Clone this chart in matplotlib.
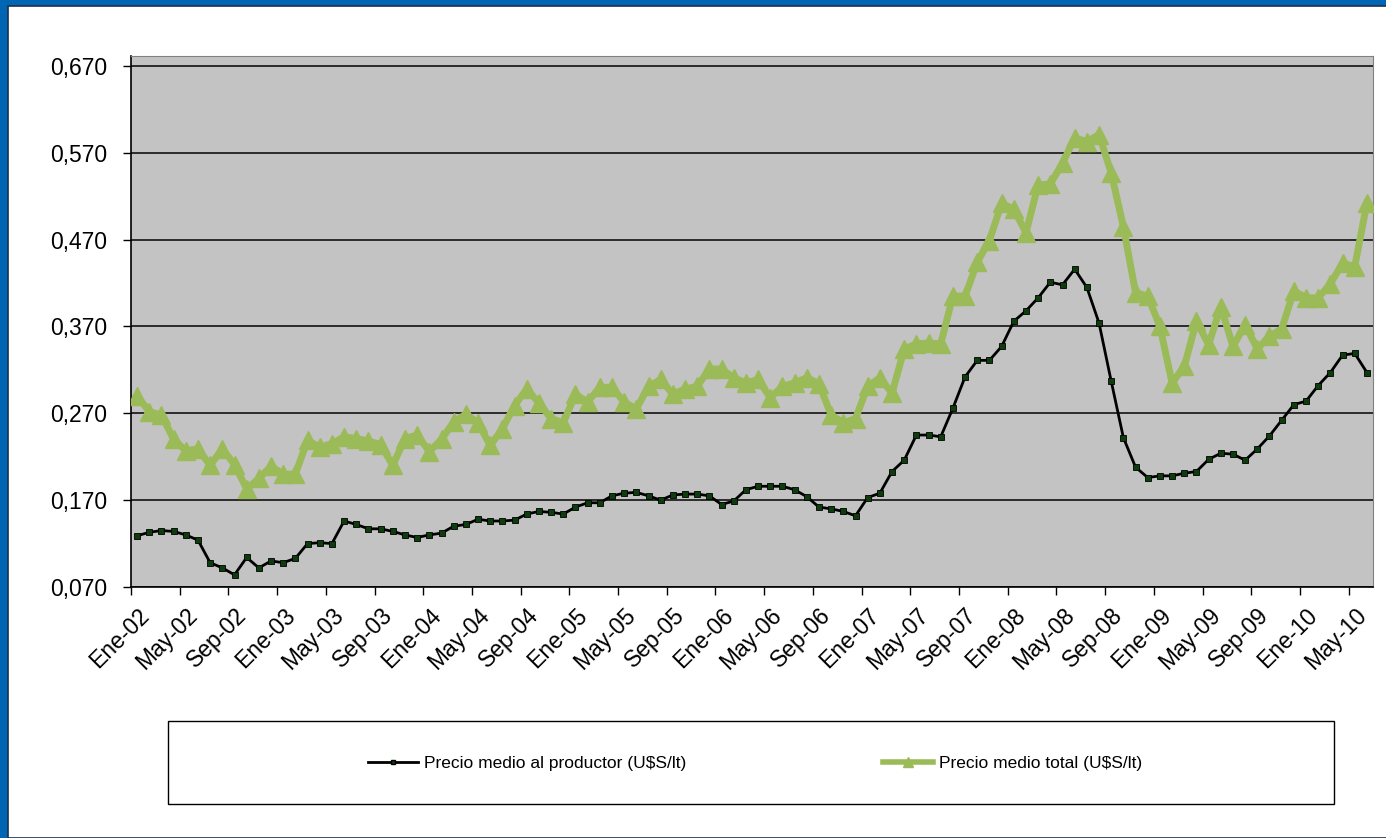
import numpy as np
import matplotlib.pyplot as plt
from matplotlib.patches import Rectangle
from matplotlib.lines import Line2D

plt.rcParams['font.family'] = ['Liberation Sans', 'DejaVu Sans']

# precio medio mensual, Ene-02 .. Jun-10
productor = [0.129, 0.133, 0.135, 0.134, 0.130, 0.124, 0.098, 0.092, 0.084, 0.104,
             0.092, 0.100, 0.098, 0.103, 0.120, 0.121, 0.120, 0.146, 0.142, 0.137,
             0.137, 0.134, 0.130, 0.127, 0.130, 0.132, 0.140, 0.142, 0.148, 0.146,
             0.146, 0.147, 0.154, 0.157, 0.156, 0.154, 0.162, 0.167, 0.167, 0.175,
             0.178, 0.179, 0.175, 0.170, 0.176, 0.177, 0.177, 0.175, 0.165, 0.169,
             0.182, 0.186, 0.186, 0.186, 0.182, 0.174, 0.162, 0.160, 0.157, 0.152,
             0.173, 0.178, 0.203, 0.216, 0.245, 0.245, 0.243, 0.276, 0.312, 0.331,
             0.331, 0.347, 0.376, 0.388, 0.403, 0.421, 0.418, 0.436, 0.415, 0.374,
             0.307, 0.242, 0.208, 0.196, 0.198, 0.198, 0.201, 0.203, 0.217, 0.224,
             0.223, 0.216, 0.229, 0.244, 0.262, 0.280, 0.284, 0.302, 0.317, 0.337,
             0.339, 0.317]
total = [0.290, 0.272, 0.268, 0.240, 0.227, 0.229, 0.210, 0.229, 0.211, 0.183,
         0.195, 0.209, 0.200, 0.200, 0.239, 0.231, 0.235, 0.243, 0.241, 0.238,
         0.234, 0.210, 0.241, 0.245, 0.226, 0.240, 0.260, 0.269, 0.259, 0.233,
         0.252, 0.279, 0.298, 0.282, 0.264, 0.259, 0.292, 0.283, 0.300, 0.300,
         0.283, 0.275, 0.301, 0.309, 0.292, 0.298, 0.301, 0.321, 0.321, 0.311,
         0.305, 0.309, 0.288, 0.301, 0.305, 0.311, 0.304, 0.268, 0.259, 0.264,
         0.301, 0.311, 0.293, 0.344, 0.350, 0.351, 0.350, 0.405, 0.405, 0.444,
         0.469, 0.512, 0.505, 0.478, 0.533, 0.534, 0.558, 0.587, 0.583, 0.591,
         0.547, 0.485, 0.409, 0.405, 0.370, 0.305, 0.324, 0.376, 0.349, 0.393,
         0.347, 0.372, 0.344, 0.359, 0.367, 0.411, 0.403, 0.403, 0.419, 0.443,
         0.439, 0.512]

x_labels = ['Ene-02', 'May-02', 'Sep-02', 'Ene-03', 'May-03', 'Sep-03', 'Ene-04',
            'May-04', 'Sep-04', 'Ene-05', 'May-05', 'Sep-05', 'Ene-06', 'May-06',
            'Sep-06', 'Ene-07', 'May-07', 'Sep-07', 'Ene-08', 'May-08', 'Sep-08',
            'Ene-09', 'May-09', 'Sep-09', 'Ene-10', 'May-10']
y_ticks = [0.070, 0.170, 0.270, 0.370, 0.470, 0.570, 0.670]
y_labels = ['0,070', '0,170', '0,270', '0,370', '0,470', '0,570', '0,670']

W, H = 1386, 838
fig = plt.figure(figsize=(W / 100, H / 100), dpi=100, facecolor='#0066b3')
# white panel inside the blue frame
fig.patches.append(Rectangle((8 / W, 0), 1, 1 - 6 / H, transform=fig.transFigure,
                             facecolor='white', edgecolor='#1a3050', lw=1.2, zorder=-10))

ax = fig.add_axes([131 / W, (H - 587) / H, (1373 - 131) / W, (587 - 56) / H])
ax.set_facecolor('#c3c3c3')
x = np.arange(len(productor))

ax.plot(x, productor, color='black', lw=2, marker='s', ms=4,
        mfc='#0d3d0d', mec='black', mew=0.6, zorder=4)
ax.plot(x, total, color='#9bbb59', lw=5, marker='^', ms=13,
        mfc='#9bbb59', mec='#9bbb59', zorder=3)

ax.set_xlim(-0.5, len(productor) - 0.5)
ax.set_ylim(0.070, 0.670 + 10 / 870)

ax.set_yticks(y_ticks)
ax.set_yticklabels(y_labels, fontsize=16.5)
ax.yaxis.grid(True, color='#202020', lw=1.3)
ax.set_axisbelow(True)
ax.tick_params(axis='y', length=6, width=1, pad=11, color='black')

ax.set_xticks(np.arange(0, len(productor), 4))
ax.set_xticklabels(x_labels, rotation=45, ha='right', rotation_mode='anchor', fontsize=16.5)
ax.set_xticks(np.arange(-0.5, len(productor), 4), minor=True)
ax.tick_params(axis='x', which='major', length=0, pad=12)
ax.tick_params(axis='x', which='minor', length=6, width=1, color='black')

for s in ['top', 'right']:
    ax.spines[s].set_color('#808080')
ax.spines['left'].set_color('black')
ax.spines['bottom'].set_color('black')
ax.spines['left'].set_linewidth(1.2)
ax.spines['bottom'].set_linewidth(1.2)

# legend box
fig.patches.append(Rectangle((168 / W, (H - 804) / H), (1334 - 168) / W, (804 - 721) / H,
                             transform=fig.transFigure, facecolor='white',
                             edgecolor='black', lw=1, zorder=-5))
handles = [Line2D([], [], color='black', lw=2, marker='s', ms=3, mfc='#0d3d0d', mec='black'),
           Line2D([], [], color='#9bbb59', lw=4, marker='^', ms=7, mfc='#9bbb59', mec='#9bbb59')]
leg = fig.legend(handles, ['Precio medio al productor (U$S/lt)', 'Precio medio total (U$S/lt)'],
                 loc='center', bbox_to_anchor=(755 / W, (H - 763) / H), ncol=2,
                 frameon=False, handlelength=2.9, handletextpad=0.35, columnspacing=11.3,
                 prop={'size': 12.5})

plt.savefig('out.png', dpi=100, facecolor=fig.get_facecolor())
